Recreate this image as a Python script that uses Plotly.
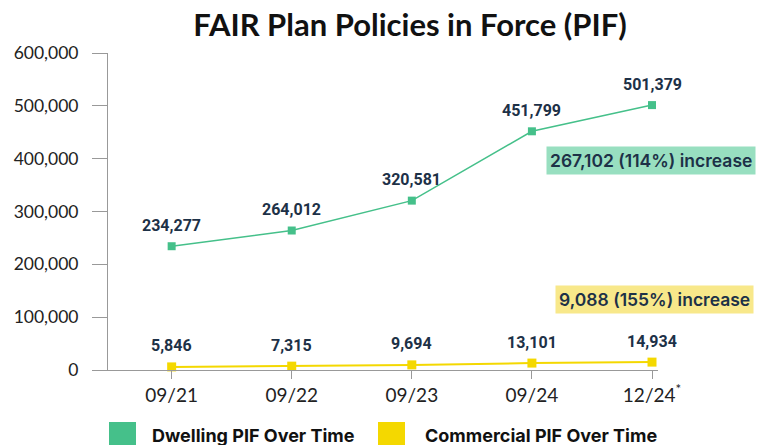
import plotly.graph_objects as go

periods = ["09/21", "09/22", "09/23", "09/24", "12/24"]
period_labels = ["09/21", "09/22", "09/23", "09/24", "12/24<sup>*</sup>"]
dwelling = [234277, 264012, 320581, 451799, 501379]
commercial = [5846, 7315, 9694, 13101, 14934]
y_ticks = [0, 100000, 200000, 300000, 400000, 500000, 600000]
series_names = ["Dwelling PIF Over Time", "Commercial PIF Over Time"]

GREEN = "#45c08a"
YELLOW = "#f4d800"
NAVY = "#1d3147"

L, R, T, B = 108, 658, 53, 370
W, H = 757, 445


def px_x(px):
    return (px - L) / (R - L)


def px_y(py):
    return (B - py) / (B - T)


fig = go.Figure()
fig.add_trace(go.Scatter(x=periods, y=dwelling, mode="lines+markers", name=series_names[0],
                         line=dict(color=GREEN, width=1.5),
                         marker=dict(symbol="square", size=8, color=GREEN),
                         showlegend=False, cliponaxis=False))
fig.add_trace(go.Scatter(x=periods, y=commercial, mode="lines+markers", name=series_names[1],
                         line=dict(color=YELLOW, width=2),
                         marker=dict(symbol="square", size=9, color=YELLOW),
                         showlegend=False, cliponaxis=False))

for ys in (dwelling, commercial):
    for x, y in zip(periods, ys):
        fig.add_annotation(x=x, y=y, text=f"{y:,}", showarrow=False, yshift=21,
                           font=dict(family="Roboto", size=16, color=NAVY, weight="bold"))

fig.add_annotation(x=px_x(651), y=px_y(160.5), xref="paper", yref="paper",
                   xanchor="center", yanchor="middle", text="267,102 (114%) increase",
                   showarrow=False, bgcolor="#98dfc0", borderpad=3,
                   font=dict(family="Inter", size=17.5, color=NAVY, weight=600))
fig.add_annotation(x=px_x(654), y=px_y(299.5), xref="paper", yref="paper",
                   xanchor="center", yanchor="middle", text="9,088 (155%) increase",
                   showarrow=False, bgcolor="#f8e88a", borderpad=3,
                   font=dict(family="Inter", size=17.5, color=NAVY, weight=600))

# manual legend
legend_items = [(109, GREEN, 150, series_names[0]), (378, YELLOW, 423, series_names[1])]
for sx, col, tx, name in legend_items:
    fig.add_shape(type="rect", xref="paper", yref="paper",
                  x0=px_x(sx), x1=px_x(sx + 27), y0=px_y(422), y1=px_y(449),
                  fillcolor=col, line=dict(width=0), layer="above")
    fig.add_annotation(x=px_x(tx), y=px_y(435), xref="paper", yref="paper",
                       xanchor="left", yanchor="middle", text=name, showarrow=False,
                       font=dict(family="Inter", size=18, color="#111", weight="bold"))

fig.update_layout(
    width=W, height=H,
    margin=dict(l=L, r=W - R, t=T, b=H - B, autoexpand=False),
    paper_bgcolor="white", plot_bgcolor="white", showlegend=False,
    title=dict(text="<b>FAIR Plan Policies in Force (PIF)</b>", x=410 / W, xref="container",
               xanchor="center", y=1 - 25 / H, yanchor="middle",
               font=dict(family="Lato", size=31, color="#111")),
    xaxis=dict(range=[-0.53, 4.05], tickvals=periods, ticktext=period_labels,
               showline=True, linecolor="#999", linewidth=1, showgrid=False,
               ticks="outside", ticklen=8, tickcolor="#999", zeroline=False,
               tickfont=dict(family="Lato", size=19, color="#222")),
    yaxis=dict(range=[0, 600000], tickvals=y_ticks, tickformat=",d",
               showline=True, linecolor="#999", linewidth=1, showgrid=False,
               ticks="outside", ticklen=15, tickcolor="#999", zeroline=False,
               ticklabelstandoff=10,
               tickfont=dict(family="Lato", size=17.5, color="#222")),
)

fig.write_html("out.html")
